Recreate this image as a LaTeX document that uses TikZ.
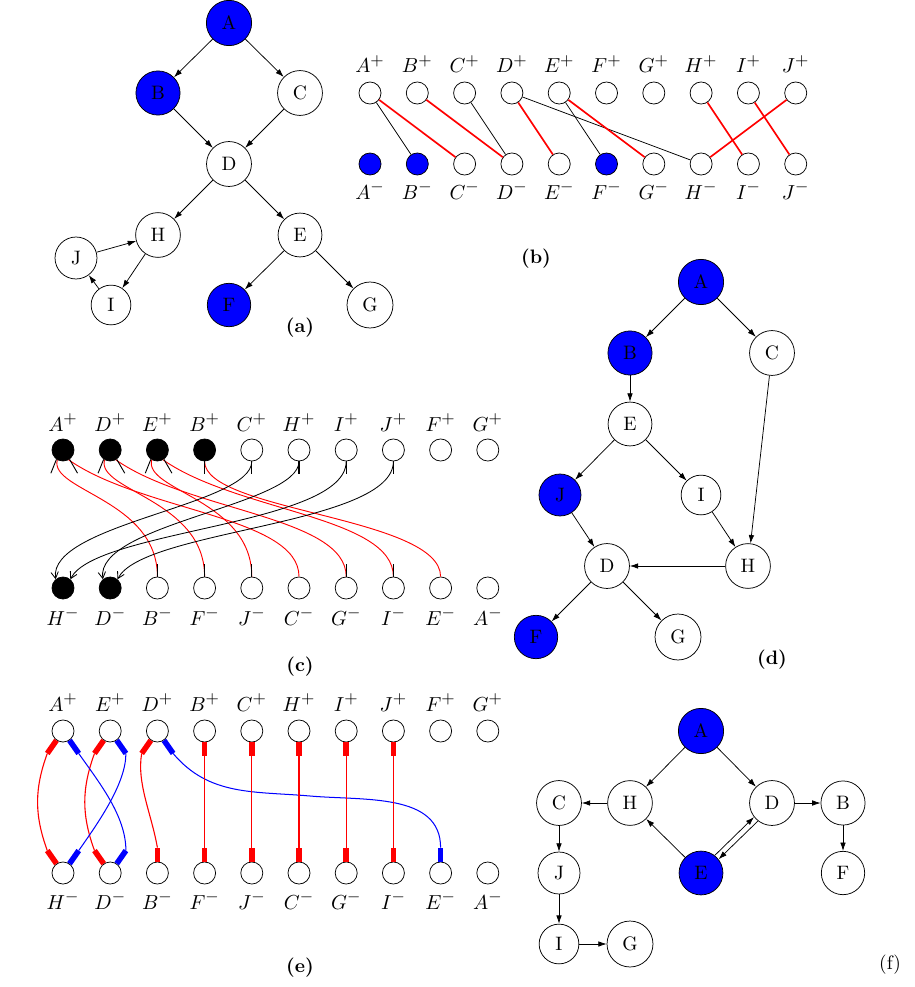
\documentclass[tikz,border=0pt]{standalone}
\usetikzlibrary{arrows.meta}
\newcommand\supsign[1]{\mbox{\fontsize{8.6}{9}\selectfont$#1$}}
\begin{document}
\begin{tikzpicture}[x=0.54pt,y=0.54pt,
  every node/.append style={font=\fontsize{10.5}{12.6}\selectfont},
  big/.style={circle,draw,inner sep=4.8pt},
  bl/.style={fill=blue},
  blk/.style={fill=black},
  sm/.style={circle,draw,minimum size=11.9pt,inner sep=0pt},
  lab/.style={anchor=base,inner sep=0pt},
  arr/.style={-{Latex[length=4.5pt,width=3pt]}},
  figcap/.style={font=\fontsize{10.5}{12.6}\selectfont\bfseries},
  bred/.style={red,line width=0.9pt},
  cred/.style={red,line width=0.5pt},
  cblk/.style={black,line width=0.45pt,-{Straight Barb[length=3.5pt,width=4pt]}},
  tickmark/.style={black,line width=0.5pt},
  ebar/.style={line width=3pt},
  ered/.style={red,line width=0.6pt},
  eblue/.style={blue,line width=0.55pt}
]
\useasboundingbox (0,0) rectangle (914,-987);

% ---------------- (a)
\node[big,bl] (aA) at (229,-23) {A};
\node[big,bl] (aB) at (158,-93) {B};
\node[big] (aC) at (300,-93) {C};
\node[big] (aD) at (229,-164) {D};
\node[big] (aH) at (158,-235) {H};
\node[big] (aE) at (300,-235) {E};
\node[big] (aJ) at (76,-258) {J};
\node[big] (aI) at (111,-305) {I};
\node[big,bl] (aF) at (229,-305) {F};
\node[big] (aG) at (370,-305) {G};
\node[figcap] (aCap) at (300,-328) {(a)};
\foreach \p/\q in {A/B,A/C,B/D,C/D,D/H,D/E,E/F,E/G,H/I,I/J,J/H}
  \draw[arr] (a\p) -- (a\q);

% ---------------- (b)
\foreach \n [count=\i from 0] in {A,B,C,D,E,F,G,H,I,J} {
  \node[sm] (bT\n) at ({370+47.3*\i},-93) {};
  \node[lab] (bTl\n) at ({370+47.3*\i},-73) {$\n^{\supsign{+}}$};
  \node[lab] (bBl\n) at ({370+47.3*\i},-199) {$\n^{\supsign{-}}$};
}
\foreach \n/\f [count=\i from 0] in {A/bl,B/bl,C/,D/,E/,F/bl,G/,H/,I/,J/}
  \node[sm,\f] (bB\n) at ({370+47.3*\i},-164) {};
\foreach \p/\q in {A/B,C/D,D/H,E/F}
  \draw (bT\p) -- (bB\q);
\foreach \p/\q in {A/C,B/D,D/E,E/G,H/I,I/J,J/H}
  \draw[bred] (bT\p) -- (bB\q);
\node[figcap] (bCap) at (536,-259) {(b)};

% ---------------- (c)
\foreach \n/\f [count=\i from 0] in {A/blk,D/blk,E/blk,B/blk,C/,H/,I/,J/,F/,G/} {
  \node[sm,\f] (cT\n) at ({63+47.2*\i},-450) {};
  \node[lab] (cTl\n) at ({63+47.2*\i},-431) {$\n^{\supsign{+}}$};
}
\foreach \n/\f [count=\i from 0] in {H/blk,D/blk,B/,F/,J/,C/,G/,I/,E/,A/} {
  \node[sm,\f] (cB\n) at ({63+47.2*\i},-588) {};
  \node[lab] (cBl\n) at ({63+47.2*\i},-625) {$\n^{\supsign{-}}$};
}
\foreach \p/\q in {A/B,D/F,E/J}
  \draw[cred] (cT\p.240) .. controls +(255:32) and +(90:77) .. (cB\q.north);
\foreach \p/\q in {A/C,D/G,E/I}
  \draw[cred] (cT\p.300) .. controls +(-35:90) and +(90:60) .. (cB\q.north);
\draw[cred] (cTB.south) .. controls +(270:50) and +(90:60) .. (cBE.north);
\foreach \p/\q in {C/H,H/D}
  \draw[cblk] (cT\p.south) .. controls +(270:44) and +(98:56) .. (cB\q.130);
\foreach \p/\q in {I/H,J/D}
  \draw[cblk] (cT\p.south) .. controls +(270:64) and +(63:56) .. (cB\q.50);
\foreach \p in {A,D,E} {
  \draw[tickmark] (cT\p.235) -- ++(248:15);
  \draw[tickmark] (cT\p.305) -- ++(300:16);
}
\draw[tickmark] (cTB.south) -- ++(0,-13);
\foreach \p in {C,H,I,J}
  \draw[tickmark,line width=0.7pt] (cT\p.south) -- ++(0,-13);
\foreach \p in {B,F,J,G,I}
  \draw[tickmark] (cB\p.north) -- ++(0,13);
\node[figcap] (cCap) at (300,-667) {(c)};

% ---------------- (d)
\node[big,bl] (dA) at (701,-282) {A};
\node[big,bl] (dB) at (630,-353) {B};
\node[big] (dC) at (772,-353) {C};
\node[big] (dE) at (630,-424) {E};
\node[big,bl] (dJ) at (560,-495) {J};
\node[big] (dI) at (701,-495) {I};
\node[big] (dD) at (607,-566) {D};
\node[big] (dH) at (748,-566) {H};
\node[big,bl] (dF) at (536,-637) {F};
\node[big] (dG) at (678,-637) {G};
\node[figcap] (dCap) at (772,-660) {(d)};
\foreach \p/\q in {A/B,A/C,B/E,E/J,E/I,J/D,I/H,C/H,H/D,D/F,D/G}
  \draw[arr] (d\p) -- (d\q);

% ---------------- (e)
\foreach \n [count=\i from 0] in {A,E,D,B,C,H,I,J,F,G} {
  \node[sm] (eT\n) at ({63+47.2*\i},-731) {};
  \node[lab] (eTl\n) at ({63+47.2*\i},-711) {$\n^{\supsign{+}}$};
}
\foreach \n [count=\i from 0] in {H,D,B,F,J,C,G,I,E,A} {
  \node[sm] (eB\n) at ({63+47.2*\i},-873) {};
  \node[lab] (eBl\n) at ({63+47.2*\i},-909) {$\n^{\supsign{-}}$};
}
\foreach \p in {A,E,D} {
  \path (eT\p.235) -- ++(235:16) coordinate (eL\p);
  \path (eT\p.305) -- ++(305:16) coordinate (eR\p);
}
\foreach \p in {H,D} {
  \path (eB\p.125) -- ++(125:16) coordinate (ebL\p);
  \path (eB\p.55) -- ++(55:16) coordinate (ebR\p);
}
\foreach \p in {B,E}
  \path (eB\p.north) -- ++(0,14) coordinate (ebV\p);
\coordinate (eMid) at (310,-796);
\draw[ered] (eLA) to[out=250,in=110] (ebLH);
\draw[ered] (eLE) to[out=250,in=110] (ebLD);
\draw[ered] (eLD) .. controls +(260:30) and +(100:35) .. (ebVB);
\draw[eblue] (eRA) .. controls +(305:35) and +(90:35) .. (ebRD);
\draw[eblue] (eRE) .. controls +(270:30) and +(55:35) .. (ebRH);
\draw[eblue] (eRD) to[out=-50,in=175] (eMid) to[out=-5,in=90] (ebVE);
\foreach \p/\q in {B/F,C/J,H/C,I/G,J/I}
  \draw[ered] (eT\p.south) -- (eB\q.north);
\foreach \p in {A,E,D} {
  \draw[ebar,red] (eT\p.235) -- (eL\p);
  \draw[ebar,blue] (eT\p.305) -- (eR\p);
}
\foreach \p in {H,D} {
  \draw[ebar,red] (eB\p.125) -- (ebL\p);
  \draw[ebar,blue] (eB\p.55) -- (ebR\p);
}
\foreach \p in {B,C,H,I,J}
  \draw[ebar,red] (eT\p.south) -- ++(0,-14);
\foreach \p in {B,F,J,C,G,I}
  \draw[ebar,red] (eB\p.north) -- ++(0,14);
\draw[ebar,blue] (eBE.north) -- (ebVE);
\node[figcap] (eCap) at (300,-968) {(e)};

% ---------------- (f)
\node[big,bl] (fA) at (701,-731) {A};
\node[big] (fH) at (630,-803) {H};
\node[big] (fD) at (772,-803) {D};
\node[big] (fC) at (559,-803) {C};
\node[big] (fB) at (843,-803) {B};
\node[big,bl] (fE) at (701,-873) {E};
\node[big] (fJ) at (559,-873) {J};
\node[big] (fF) at (843,-873) {F};
\node[big] (fI) at (559,-944) {I};
\node[big] (fG) at (630,-944) {G};
\node (fCap) at (890,-965) {(f)};
\foreach \p/\q in {A/H,A/D,H/C,D/B,B/F,C/J,J/I,I/G,E/H}
  \draw[arr] (f\p) -- (f\q);
\draw[arr] (fE.52) -- (fD.218);
\draw[arr] (fD.232) -- (fE.38);
\end{tikzpicture}
\end{document}
